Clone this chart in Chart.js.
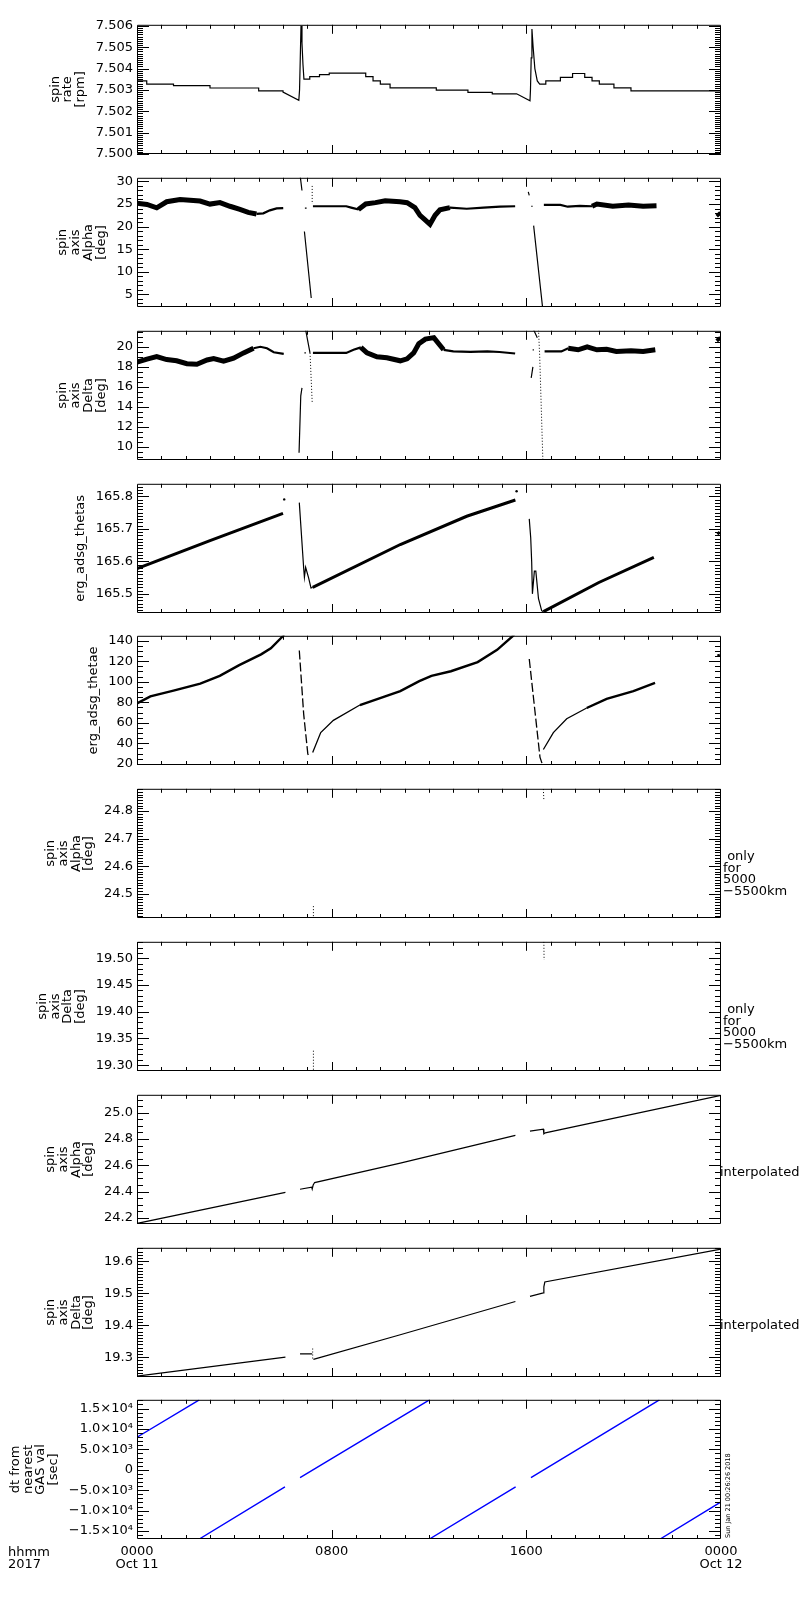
<!DOCTYPE html>
<html>
<head>
<meta charset="utf-8">
<title>ERG spin axis 2017-10-11</title>
<script src="https://cdn.jsdelivr.net/npm/chart.js@4.4.0/dist/chart.umd.min.js"></script>
<style>
  body { margin: 0; background: #fff; }
  #page { position: relative; width: 800px; height: 1600px; overflow: hidden; background: #fff; }
  #page canvas { position: absolute; left: 0; }
</style>
</head>
<body>
<div id="page"></div>
<script>
// === Data (hours since 2017-10-11 00:00 UT) ===

// x axis labels
const xTickHours = [0, 8, 16, 24];
const xTickLabels = [["0000", "Oct 11"], ["0800"], ["1600"], ["0000", "Oct 12"]];

// panel 1: spin rate [rpm]
const rateT = [0, 0.4, 0.4, 1.5, 1.5, 3.0, 3.0, 5.0, 5.0, 6.0, 6.0, 6.65, 6.68, 6.71, 6.74, 6.78, 6.82, 6.86, 7.1, 7.1, 7.5, 7.5, 7.9, 7.9, 9.4, 9.4, 9.7, 9.7, 10.0, 10.0, 10.4, 10.4, 12.3, 12.3, 13.6, 13.6, 14.6, 14.6, 15.6, 16.15, 16.17, 16.2, 16.23, 16.28, 16.35, 16.45, 16.55, 16.8, 16.8, 17.4, 17.4, 17.9, 17.9, 18.4, 18.4, 18.7, 18.7, 19.0, 19.0, 19.6, 19.6, 20.3, 20.3, 24];
const rateV = [7.50342, 7.50342, 7.50327, 7.50327, 7.50320, 7.50320, 7.50309, 7.50309, 7.50296, 7.50296, 7.50290, 7.50251, 7.5030, 7.5045, 7.5060, 7.5052, 7.5042, 7.50351, 7.50351, 7.50362, 7.50362, 7.50372, 7.50372, 7.50379, 7.50379, 7.50362, 7.50362, 7.50342, 7.50342, 7.50327, 7.50327, 7.50310, 7.50310, 7.50299, 7.50299, 7.50289, 7.50289, 7.50282, 7.50282, 7.50249, 7.5030, 7.5045, 7.50585, 7.5050, 7.5040, 7.50342, 7.50327, 7.50327, 7.50342, 7.50342, 7.50359, 7.50359, 7.50377, 7.50377, 7.50359, 7.50359, 7.50342, 7.50342, 7.50327, 7.50327, 7.50310, 7.50310, 7.50296, 7.50296];

// panel 2: spin axis Alpha [deg]
const alphaBandT = [0, 0.41, 0.81, 1.22, 1.77, 2.18, 2.59, 3.0, 3.41, 3.82, 4.23, 4.57, 4.91, null, 9.1, 9.4, 9.8, 10.2, 10.81, 11.1, 11.42, 11.63, 11.84, 12.04, 12.25, 12.45, 12.86, null, 18.7, 18.9, 19.55, 20.2, 20.8, 21.35, null, 23.85, 23.95];
const alphaBandV = [25.17, 24.9, 24.16, 25.5, 25.98, 25.85, 25.65, 24.98, 25.3, 24.5, 23.82, 23.15, 22.8, null, 23.8, 25.0, 25.3, 25.7, 25.5, 25.3, 24.2, 22.5, 21.5, 20.5, 22.5, 23.7, 24.2, null, 24.5, 25.0, 24.5, 24.8, 24.5, 24.6, null, 23.0, 22.4];
const alphaLineT = [4.91, 5.19, 5.46, 5.74, 6.01, null, 7.23, 8.6, 8.8, 9.08, 9.4, null, 12.86, 13.55, 14.24, 14.92, 15.54, null, 16.72, 17.4, 17.7, 18.2, 18.7];
const alphaLineV = [22.8, 22.94, 23.6, 24.02, 24.1, null, 24.5, 24.5, 24.2, 23.8, 25.0, null, 24.2, 23.95, 24.2, 24.4, 24.5, null, 24.8, 24.8, 24.4, 24.6, 24.5];
const alphaSpikeT = [6.70, 6.78, null, 6.88, 7.16, null, 6.90, 6.97, null, 16.08, 16.12, null, 16.2, 16.26, null, 16.3, 16.68];
const alphaSpikeV = [31.5, 28.0, null, 18.9, 4.2, null, 24.1, 24.1, null, 27.7, 26.9, null, 24.5, 24.5, null, 20.2, 1.5];
const alphaDotT = [7.2, 7.2];
const alphaDotV = [29.0, 25.0];

// panel 3: spin axis Delta [deg]
const deltaBandT = [0, 0.41, 0.81, 1.22, 1.63, 2.05, 2.46, 2.88, 3.15, 3.56, 3.97, 4.38, 4.79, null, 9.2, 9.45, 9.86, 10.27, 10.82, 11.1, 11.37, 11.58, 11.85, 12.2, 12.4, 12.6, null, 17.72, 18.13, 18.5, 18.9, 19.3, 19.7, 20.3, 20.8, 21.3, null, 23.85, 23.95];
const deltaBandV = [18.47, 18.77, 19.02, 18.72, 18.6, 18.31, 18.25, 18.68, 18.83, 18.56, 18.86, 19.39, 19.85, null, 19.94, 19.39, 19.0, 18.9, 18.6, 18.8, 19.39, 20.3, 20.77, 20.92, 20.3, 19.7, null, 19.85, 19.7, 20.0, 19.7, 19.75, 19.54, 19.6, 19.54, 19.7, null, 20.9, 20.6];
const deltaLineT = [4.79, 5.07, 5.34, 5.62, 6.03, null, 7.23, 8.6, 8.9, 9.2, null, 12.6, 13.0, 13.7, 14.4, 14.9, 15.54, null, 16.75, 17.44, 17.72];
const deltaLineV = [19.85, 20.0, 19.85, 19.45, 19.3, null, 19.39, 19.39, 19.7, 19.94, null, 19.7, 19.54, 19.5, 19.54, 19.48, 19.33, null, 19.54, 19.54, 19.85];
const deltaSpikeT = [6.66, 6.73, 6.78, null, 6.93, 7.11, null, 6.88, 6.94, null, 16.2, 16.27, null, 16.3, 16.45, null, 16.26, 16.31];
const deltaSpikeV = [9.4, 15.1, 15.9, null, 21.7, 19.39, null, 19.39, 19.39, null, 16.9, 18.0, null, 21.7, 20.9, null, 19.7, 19.7];
const deltaDotT = [7.11, 7.2, null, 16.5, 16.55, 16.68];
const deltaDotV = [19.39, 14.46, null, 21.7, 19.0, 8.6];

// panel 4: erg_adsg_thetas
const thetasBandT = [0, 3.0, 6.0, null, 7.22, 10.82, 13.55, 15.55, null, 16.7, 18.98, 21.24, null, 23.85, 23.95];
const thetasBandV = [165.578, 165.664, 165.748, null, 165.52, 165.652, 165.739, 165.789, null, 165.445, 165.535, 165.612, null, 165.684, 165.69];
const thetasLineT = [6.67, 6.85, 6.88, 6.93, 7.05, 7.15, 7.22, null, 16.12, 16.18, 16.22, 16.25, 16.33, 16.39, 16.5, 16.63, 16.7];
const thetasLineV = [165.781, 165.579, 165.551, 165.582, 165.55, 165.518, 165.52, null, 165.731, 165.673, 165.598, 165.5, 165.57, 165.57, 165.485, 165.448, 165.445];
const thetasDotT = [6.05, 15.6];
const thetasDotV = [165.791, 165.816];

// panel 5: erg_adsg_thetae
const thetaeBandT = [0, 0.55, 1.5, 2.6, 3.4, 4.2, 5.1, 5.5, 6.0, 6.05, null, 9.16, 10.82, 11.6, 12.1, 12.9, 14.0, 14.8, 15.45, 15.5, null, 18.48, 19.3, 20.4, 21.29, null, 23.85, 23.95];
const thetaeBandV = [78.8, 85.7, 91.4, 98.2, 105.7, 116.1, 126.6, 132.5, 144.5, 146, null, 77.3, 90.8, 100.5, 105.7, 110.2, 119.1, 131, 144.5, 146, null, 74.4, 83.3, 90.8, 98.8, null, 125.4, 126];
const thetaeLineT = [7.22, 7.55, 8.07, 9.16, null, 16.7, 17.11, 17.66, 18.48];
const thetaeLineV = [31, 50.5, 62.4, 77.3, null, 34, 50.5, 63.9, 74.4];
const thetaeSpikeT = [6.67, 6.85, 7.02, 7.1, null, 16.12, 16.56, 16.68];
const thetaeSpikeV = [130.4, 68.4, 29.6, 26.6, null, 122.1, 26.6, 18];

// panels 6-7: only for 5000-5500km
const onlyAlphaT = [7.25, 7.25, null, 16.7, 16.72];
const onlyAlphaV = [24.455, 24.412, null, 24.88, 24.84];
const onlyDeltaT = [7.25, 7.25, null, 16.72, 16.73];
const onlyDeltaV = [19.327, 19.29, null, 19.531, 19.497];

// panels 8-9: interpolated
const interpAlphaT = [0, 6.1, null, 6.7, 7.18, 7.2, 7.24, 7.3, 10.82, 15.55, null, 16.15, 16.7, 16.72, 16.78, 24];
const interpAlphaV = [24.158, 24.394, null, 24.418, 24.434, 24.42, 24.45, 24.469, 24.617, 24.827, null, 24.86, 24.874, 24.839, 24.847, 25.131];
const interpDeltaT = [0, 6.1, null, 6.7, 7.2, null, 7.25, 10.82, 15.55, null, 16.15, 16.7, 16.72, 16.76, 24];
const interpDeltaV = [19.241, 19.300, null, 19.310, 19.310, null, 19.293, 19.37, 19.474, null, 19.49, 19.501, 19.52, 19.535, 19.638];
const interpDeltaDotT = [7.22, 7.22];
const interpDeltaDotV = [19.327, 19.293];

// panel 10: dt from nearest GAS val [sec]
const dtT = [0, 2.56, null, 2.56, 6.08, null, 6.70, 12.02, null, 12.02, 15.56, null, 16.19, 21.47, null, 21.5, 24];
const dtV = [7990, 17150, null, -16950, -4170, null, -1920, 17150, null, -16950, -4170, null, -1920, 17150, null, -16950, -7840];

// === Layout ===
const PANEL_TOP0 = 23.3;
const PANEL_PITCH = 152.78;
const PANEL_H = 141;
const AXIS_W = 137;      // left edge of plot box
const RIGHT_PAD = 79;    // 800 - right edge of plot box
const FONT = '"DejaVu Sans"';

Chart.defaults.font.family = "DejaVu Sans";
Chart.defaults.color = "#000";

// series helper: null in the arrays breaks the line
function series(T, V, width, dash, color) {
  const data = T.map((t, i) => ({ x: t === null ? T[i - 1] : t, y: V[i] }));
  return {
    data, borderColor: color || "#000", borderWidth: width, borderDash: dash || [],
    pointRadius: 0, tension: 0, fill: false, spanGaps: false
  };
}
function dots(T, V) {
  return {
    data: T.map((t, i) => ({ x: t, y: V[i] })), showLine: false,
    pointRadius: 1.2, pointBackgroundColor: "#000", pointBorderWidth: 0
  };
}

// multiples of step (or minor step) inside [min, max]
function multiples(min, max, step) {
  const out = [];
  const k0 = Math.ceil(min / step - 1e-6), k1 = Math.floor(max / step + 1e-6);
  for (let k = k0; k <= k1; k++) out.push(k * step);
  return out;
}

const sup = { 3: "\u00b3", 4: "\u2074" };
function sciLabel(v) {
  if (Math.abs(v) < 1e-9) return "0";
  const a = Math.abs(v);
  const e = Math.floor(Math.log10(a) + 1e-9);
  return (v < 0 ? "\u2212" : "") + (a / Math.pow(10, e)).toFixed(1) + "\u00d710" + sup[e];
}

const DOT = [1, 2];
const onlyNote = [" only", "for", "5000", "\u22125500km"];

const panels = [
  { title: ["spin", "rate", "[rpm]"], min: 7.5, max: 7.50605, step: 0.001, minor: 0.0001, fmt: v => v.toFixed(3),
    sets: [series(rateT, rateV, 1.2)] },
  { title: ["spin", "axis", "Alpha", "[deg]"], min: 2.2, max: 30.8, step: 5, minor: 1, fmt: v => v.toFixed(0),
    sets: [series(alphaBandT, alphaBandV, 5), series(alphaLineT, alphaLineV, 2.2), series(alphaSpikeT, alphaSpikeV, 1.2), series(alphaDotT, alphaDotV, 1, DOT)] },
  { title: ["spin", "axis", "Delta", "[deg]"], min: 8.68, max: 21.6, step: 2, minor: 0.5, fmt: v => v.toFixed(0),
    sets: [series(deltaBandT, deltaBandV, 5), series(deltaLineT, deltaLineV, 2.2), series(deltaSpikeT, deltaSpikeV, 1.2), series(deltaDotT, deltaDotV, 1, DOT)] },
  { title: ["erg_adsg_thetas"], min: 165.441, max: 165.839, step: 0.1, minor: 0.01, fmt: v => v.toFixed(1),
    sets: [series(thetasBandT, thetasBandV, 3), series(thetasLineT, thetasLineV, 1.2), dots(thetasDotT, thetasDotV)] },
  { title: ["erg_adsg_thetae"], min: 18.9, max: 144.7, step: 20, minor: 5, fmt: v => v.toFixed(0),
    sets: [series(thetaeBandT, thetaeBandV, 2.4), series(thetaeLineT, thetaeLineV, 1.3), series(thetaeSpikeT, thetaeSpikeV, 1.3, [9, 3])] },
  { title: ["spin", "axis", "Alpha", "[deg]"], min: 24.412, max: 24.881, step: 0.1, minor: 0.01, fmt: v => v.toFixed(1),
    sets: [series(onlyAlphaT, onlyAlphaV, 1, DOT)], note: onlyNote },
  { title: ["spin", "axis", "Delta", "[deg]"], min: 19.289, max: 19.531, step: 0.05, minor: 0.01, fmt: v => v.toFixed(2),
    sets: [series(onlyDeltaT, onlyDeltaV, 1, DOT)], note: onlyNote },
  { title: ["spin", "axis", "Alpha", "[deg]"], min: 24.154, max: 25.136, step: 0.2, minor: 0.05, fmt: v => v.toFixed(1),
    sets: [series(interpAlphaT, interpAlphaV, 1.2)], note: ["interpolated"] },
  { title: ["spin", "axis", "Delta", "[deg]"], min: 19.238, max: 19.642, step: 0.1, minor: 0.01, fmt: v => v.toFixed(1),
    sets: [series(interpDeltaT, interpDeltaV, 1.2), series(interpDeltaDotT, interpDeltaDotV, 1, DOT)], note: ["interpolated"] },
  { title: ["dt from", "nearest", "GAS val", "[sec]"], min: -16950, max: 17150, step: 5000, minor: 1000, fmt: sciLabel,
    sets: [series(dtT, dtV, 1.4, null, "#0000ff")] }
];

// === IDL style box, inward ticks, side texts ===
function idlFrame(p, last) {
  return {
    id: "idlFrame",
    afterDraw(chart) {
      const ctx = chart.ctx, a = chart.chartArea;
      const xs = chart.scales.x, ys = chart.scales.y;
      ctx.save();
      ctx.strokeStyle = "#000";
      ctx.lineWidth = 1;
      ctx.beginPath();
      ctx.rect(a.left + 0.5, a.top + 0.5, a.right - a.left - 1, a.bottom - a.top - 1);
      for (let h = 1; h < 24; h++) {
        const px = Math.round(xs.getPixelForValue(h)) + 0.5;
        const len = h % 8 === 0 ? 9 : 4;
        ctx.moveTo(px, a.bottom); ctx.lineTo(px, a.bottom - len);
        ctx.moveTo(px, a.top); ctx.lineTo(px, a.top + len);
      }
      multiples(p.min, p.max, p.minor).forEach(v => {
        const r = v / p.step;
        const len = Math.abs(r - Math.round(r)) < 1e-6 ? 12 : 6;
        const py = Math.round(ys.getPixelForValue(v)) + 0.5;
        ctx.moveTo(a.left, py); ctx.lineTo(a.left + len, py);
        ctx.moveTo(a.right, py); ctx.lineTo(a.right - len, py);
      });
      ctx.stroke();

      // y title, one rotated column per line
      ctx.fillStyle = "#000";
      ctx.font = "13px " + FONT;
      let w = 0;
      ys.ticks.forEach(t => { w = Math.max(w, ctx.measureText(p.fmt(t.value)).width); });
      const colRight = a.left - 4 - w - 15;
      const cy = (a.top + a.bottom) / 2;
      p.title.forEach((line, j) => {
        ctx.save();
        ctx.translate(colRight - (p.title.length - 1 - j) * 12.8, cy);
        ctx.rotate(-Math.PI / 2);
        ctx.textAlign = "center";
        ctx.textBaseline = "middle";
        ctx.fillText(line, 0, 0);
        ctx.restore();
      });

      // notes right of the box
      if (p.note) {
        ctx.textAlign = "left";
        ctx.textBaseline = "middle";
        if (p.note.length === 1) {
          ctx.fillText(p.note[0], a.right - 1, a.top + 78);
        } else {
          p.note.forEach((line, j) => ctx.fillText(line, a.right + 2, a.top + 68 + j * 11.5));
        }
      }

      if (last) {
        ctx.textAlign = "left";
        ctx.textBaseline = "top";
        ctx.fillText("hhmm", 8, a.bottom + 7);
        ctx.fillText("2017", 8, a.bottom + 19);
        ctx.save();
        ctx.font = "6.5px " + FONT;
        ctx.translate(a.right + 7, a.bottom - 1);
        ctx.rotate(-Math.PI / 2);
        ctx.textAlign = "left";
        ctx.textBaseline = "middle";
        ctx.fillText("Sun Jan 21 00:26:26 2018", 0, 0);
        ctx.restore();
      }
      ctx.restore();
    }
  };
}

// === Build panels ===
const page = document.getElementById("page");
panels.forEach((p, i) => {
  const last = i === panels.length - 1;
  const top = Math.round(PANEL_TOP0 + i * PANEL_PITCH);
  const cTop = top - 10;
  const cH = last ? 1600 - cTop : PANEL_H + 20;
  const canvas = document.createElement("canvas");
  canvas.width = 800;
  canvas.height = cH;
  canvas.style.top = cTop + "px";
  canvas.style.width = "800px";
  canvas.style.height = cH + "px";
  page.appendChild(canvas);

  new Chart(canvas, {
    type: "line",
    data: { datasets: p.sets },
    options: {
      responsive: false,
      animation: false,
      events: [],
      layout: { padding: { left: 0, right: RIGHT_PAD, top: 10, bottom: last ? 0 : 10 } },
      plugins: { legend: { display: false }, tooltip: { enabled: false } },
      scales: {
        x: {
          type: "linear", min: 0, max: 24, display: last,
          grid: { display: false, drawTicks: false }, border: { display: false },
          ticks: {
            autoSkip: false, maxRotation: 0, padding: 7,
            font: { size: 13, lineHeight: 0.93 },
            callback: v => { const k = xTickHours.indexOf(v); return k < 0 ? "" : xTickLabels[k]; }
          },
          afterBuildTicks: s => { s.ticks = xTickHours.map(v => ({ value: v })); },
          afterFit: s => { s.height = cH - 10 - PANEL_H; }
        },
        y: {
          type: "linear", position: "left", min: p.min, max: p.max,
          grid: { display: false, drawTicks: false }, border: { display: false },
          ticks: { autoSkip: false, padding: 4, font: { size: 13 }, callback: v => p.fmt(v) },
          afterBuildTicks: s => { s.ticks = multiples(p.min, p.max, p.step).map(v => ({ value: v })); },
          afterFit: s => { s.width = AXIS_W; }
        }
      }
    },
    plugins: [idlFrame(p, last)]
  });
});
</script>
</body>
</html>
